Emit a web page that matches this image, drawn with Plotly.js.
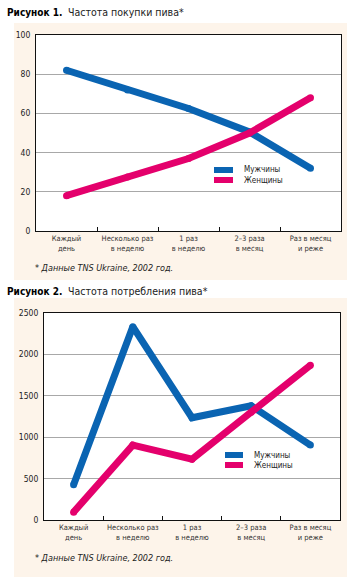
<!DOCTYPE html>
<html>
<head>
<meta charset="utf-8">
<script src="https://cdn.plot.ly/plotly-3.0.1.min.js"></script>
<style>
  html, body { margin: 0; padding: 0; background: #ffffff; }
  #chart { width: 350px; height: 577px; }
</style>
</head>
<body>
<div id="chart"></div>
<script>
// ---- Data ----
const categories = [
  "Каждый<br>день",
  "Несколько раз<br>в неделю",
  "1 раз<br>в неделю",
  "2–3 раза<br>в месяц",
  "Раз в месяц<br>и реже"
];
const seriesNames = ["Мужчины", "Женщины"];
// Рисунок 1. Частота покупки пива
const purchaseMen   = [82, 72, 62.5, 50.5, 32];
const purchaseWomen = [18, 27.5, 37, 50, 68];
// Рисунок 2. Частота потребления пива
const consumptionMen   = [425, 2335, 1235, 1380, 905];
const consumptionWomen = [95, 905, 735, 1300, 1870];
const yTicks1 = [0, 20, 40, 60, 80, 100];
const yTicks2 = [0, 500, 1000, 1500, 2000, 2500];

const titles = [
  {label: "Рисунок 1.", text: "Частота покупки пива*"},
  {label: "Рисунок 2.", text: "Частота потребления пива*"}
];
const footnote = "* Данные TNS Ukraine, 2002 год.";

// ---- Styling ----
const W = 350, H = 577;
const px = v => v / W;
const py = v => 1 - v / H;
const BLUE = "#0a64b2";
const PINK = "#e4006c";
const FONT = "'Liberation Sans Narrow', 'DejaVu Sans Condensed', 'Liberation Sans', Arial, sans-serif";

function line(x, y, name, color, xa, ya) {
  return {
    x: x, y: y, name: name, type: "scatter", mode: "lines+markers",
    xaxis: xa, yaxis: ya,
    line: {color: color, width: 7},
    marker: {color: color, size: 7},
    showlegend: false, hoverinfo: "skip", cliponaxis: false
  };
}

const data = [
  line(categories, purchaseMen, seriesNames[0], BLUE, "x", "y"),
  line(categories, purchaseWomen, seriesNames[1], PINK, "x", "y"),
  line(categories, consumptionMen, seriesNames[0], BLUE, "x2", "y2"),
  line(categories, consumptionWomen, seriesNames[1], PINK, "x2", "y2")
];

function xAxis(domain, anchor) {
  return {
    domain: domain, anchor: anchor, type: "category",
    range: [-0.5, 4.5],
    showline: true, linecolor: "#111", linewidth: 1, mirror: true,
    ticks: "inside", ticklen: 4, tickcolor: "#111", tickson: "boundaries",
    showgrid: false, zeroline: false,
    tickangle: 0, automargin: false,
    tickfont: {family: FONT, size: 7.5, color: "#333"},
    fixedrange: true
  };
}
function yAxis(domain, anchor, range, ticks) {
  return {
    domain: domain, anchor: anchor, range: range,
    tickvals: ticks, ticktext: ticks.map(String),
    showline: true, linecolor: "#111", linewidth: 1, mirror: true,
    ticks: "", showgrid: true, gridcolor: "#a8a8a8", gridwidth: 1,
    zeroline: false, automargin: false,
    tickfont: {family: FONT, size: 8.5, color: "#222"},
    ticklabelstandoff: 3,
    fixedrange: true
  };
}

const shapes = [
  // cream panels
  {type: "rect", xref: "paper", yref: "paper", x0: px(14), x1: px(347), y0: py(280), y1: py(23),
   fillcolor: "#fdf4ea", line: {width: 0}, layer: "below"},
  {type: "rect", xref: "paper", yref: "paper", x0: px(14), x1: px(347), y0: py(577), y1: py(298),
   fillcolor: "#fdf4ea", line: {width: 0}, layer: "below"},
  // white plot areas
  {type: "rect", xref: "x domain", yref: "y domain", x0: 0, x1: 1, y0: 0, y1: 1,
   fillcolor: "#ffffff", line: {width: 0}, layer: "below"},
  {type: "rect", xref: "x2 domain", yref: "y2 domain", x0: 0, x1: 1, y0: 0, y1: 1,
   fillcolor: "#ffffff", line: {width: 0}, layer: "below"},
  // legend swatches
  {type: "rect", xref: "paper", yref: "paper", x0: px(214), x1: px(233), y0: py(173), y1: py(167),
   fillcolor: BLUE, line: {width: 0}},
  {type: "rect", xref: "paper", yref: "paper", x0: px(214), x1: px(233), y0: py(183), y1: py(177),
   fillcolor: PINK, line: {width: 0}},
  {type: "rect", xref: "paper", yref: "paper", x0: px(225), x1: px(243), y0: py(458), y1: py(452),
   fillcolor: BLUE, line: {width: 0}},
  {type: "rect", xref: "paper", yref: "paper", x0: px(225), x1: px(243), y0: py(468), y1: py(462),
   fillcolor: PINK, line: {width: 0}}
];

function ann(text, x, y, size, color) {
  return {
    text: text, xref: "paper", yref: "paper", x: px(x), y: py(y),
    xanchor: "left", yanchor: "middle", showarrow: false,
    font: {family: FONT, size: size, color: color || "#222"}
  };
}

const annotations = [
  ann("<b>" + titles[0].label + "</b>", 5, 12, 10, "#000"),
  ann(titles[0].text, 66, 12, 10.5),
  ann("<i>" + footnote + "</i>", 33, 268, 9),
  ann(seriesNames[0], 242, 170, 8),
  ann(seriesNames[1], 242, 180, 8),
  ann("<b>" + titles[1].label + "</b>", 5, 291, 10, "#000"),
  ann(titles[1].text, 66, 291, 10.5),
  ann("<i>" + footnote + "</i>", 33, 558, 9),
  ann(seriesNames[0], 252, 455, 8),
  ann(seriesNames[1], 252, 465, 8)
];

const layout = {
  width: W, height: H,
  margin: {l: 0, r: 0, t: 0, b: 0},
  paper_bgcolor: "#ffffff",
  plot_bgcolor: "rgba(0,0,0,0)",
  showlegend: false,
  font: {family: FONT, size: 9, color: "#222"},
  xaxis: xAxis([px(36), px(341)], "y"),
  yaxis: yAxis([py(231), py(35)], "x", [0, 100], yTicks1),
  xaxis2: xAxis([px(44), px(340)], "y2"),
  yaxis2: yAxis([py(520), py(313)], "x2", [0, 2500], yTicks2),
  shapes: shapes,
  annotations: annotations
};

Plotly.newPlot("chart", data, layout, {staticPlot: true, displayModeBar: false});
</script>
</body>
</html>
